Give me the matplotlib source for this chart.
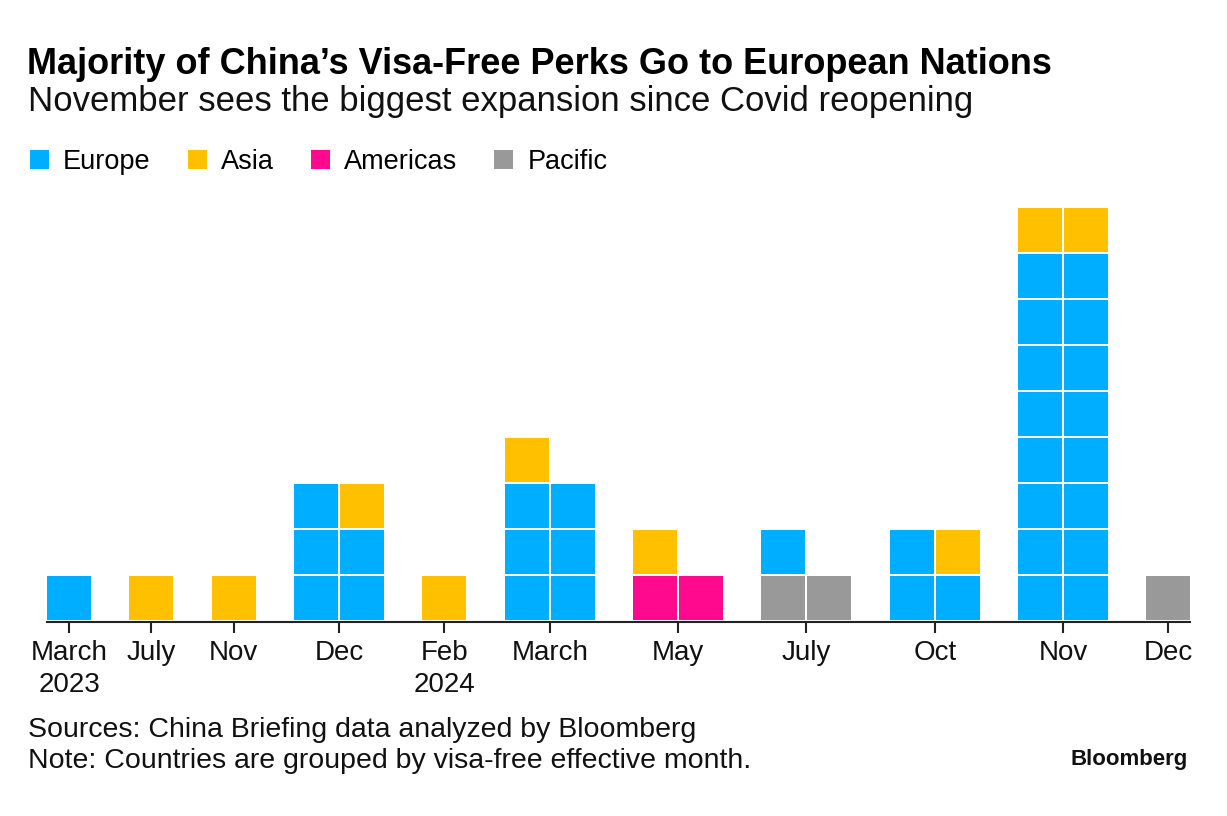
import matplotlib.pyplot as plt
from matplotlib.patches import Rectangle, Patch

plt.rcParams['font.family'] = ['Liberation Sans', 'DejaVu Sans']

# data: countries getting visa-free entry, by effective month
months = ['March\n2023', 'July', 'Nov', 'Dec', 'Feb\n2024', 'March',
          'May', 'July', 'Oct', 'Nov', 'Dec']
europe = [1, 0, 0, 5, 0, 6, 0, 1, 3, 16, 0]
asia = [0, 1, 1, 1, 1, 1, 1, 0, 1, 2, 0]
americas = [0, 0, 0, 0, 0, 0, 2, 0, 0, 0, 0]
pacific = [0, 0, 0, 0, 0, 0, 0, 2, 0, 0, 1]

legend_order = ['Europe', 'Asia', 'Americas', 'Pacific']
fill_order = ['Pacific', 'Americas', 'Europe', 'Asia']
counts = {'Europe': europe, 'Asia': asia, 'Americas': americas, 'Pacific': pacific}
colors = {'Europe': '#00aeff', 'Asia': '#ffc000',
          'Americas': '#ff0a8f', 'Pacific': '#999999'}

W, H = 1227, 816
px = 46          # one cell in pixels
g = 2 / px       # white gap between cells
group_gap = 0.79

fig = plt.figure(figsize=(W / 100, H / 100), dpi=100)

# work out column layout first
ncols = []
starts = []
x = 0
for i in range(len(months)):
    total = sum(counts[r][i] for r in fill_order)
    nc = 2 if total > 1 else 1
    ncols.append(nc)
    starts.append(x)
    x += nc + group_gap
xmax = x - group_gap - g
ymax = 9.5

ax = fig.add_axes([47 / W, (H - 622) / H, xmax * px / W, ymax * px / H])

for i in range(len(months)):
    cells = []
    for r in fill_order:
        cells += [r] * counts[r][i]
    for k, r in enumerate(cells):
        col = k % ncols[i]
        row = k // ncols[i]
        ax.add_patch(Rectangle((starts[i] + col, row + g), 1 - g, 1 - g,
                               facecolor=colors[r], edgecolor='none'))

ax.set_xlim(0, xmax)
ax.set_ylim(0, ymax)
for s in ['top', 'right', 'left']:
    ax.spines[s].set_visible(False)
ax.spines['bottom'].set_linewidth(1.5)
ax.spines['bottom'].set_color('#222222')
ax.set_yticks([])
ax.set_xticks([starts[i] + (ncols[i] - g) / 2 for i in range(len(months))])
ax.set_xticklabels(months, fontsize=20, linespacing=1.33)
ax.tick_params(axis='x', length=8, width=1.5, color='#222222', pad=4.8, labelcolor='#111111')

# titles
fig.text(27 / W, 1 - 74 / H, 'Majority of China’s Visa-Free Perks Go to European Nations',
         fontsize=26, fontweight='bold', ha='left', va='baseline', color='#000000')
fig.text(28 / W, 1 - 111 / H, 'November sees the biggest expansion since Covid reopening',
         fontsize=25, ha='left', va='baseline', color='#111111')

handles = [Patch(facecolor=colors[r], edgecolor='none', label=r) for r in legend_order]
fig.legend(handles=handles, loc='center left', bbox_to_anchor=(30 / W, 1 - 162 / H),
           ncol=4, frameon=False, fontsize=19.5, borderpad=0, borderaxespad=0,
           handlelength=0.7, handleheight=0.7, handletextpad=0.52, columnspacing=1.37)

# footer
fig.text(28 / W, 1 - 737 / H, 'Sources: China Briefing data analyzed by Bloomberg',
         fontsize=20.5, ha='left', va='baseline', color='#111111')
fig.text(28 / W, 1 - 768 / H, 'Note: Countries are grouped by visa-free effective month.',
         fontsize=20.5, ha='left', va='baseline', color='#111111')
fig.text(1188 / W, 1 - 765 / H, 'Bloomberg', fontsize=16, fontweight='bold',
         ha='right', va='baseline', color='#111111')

fig.savefig('out.png', dpi=100)
